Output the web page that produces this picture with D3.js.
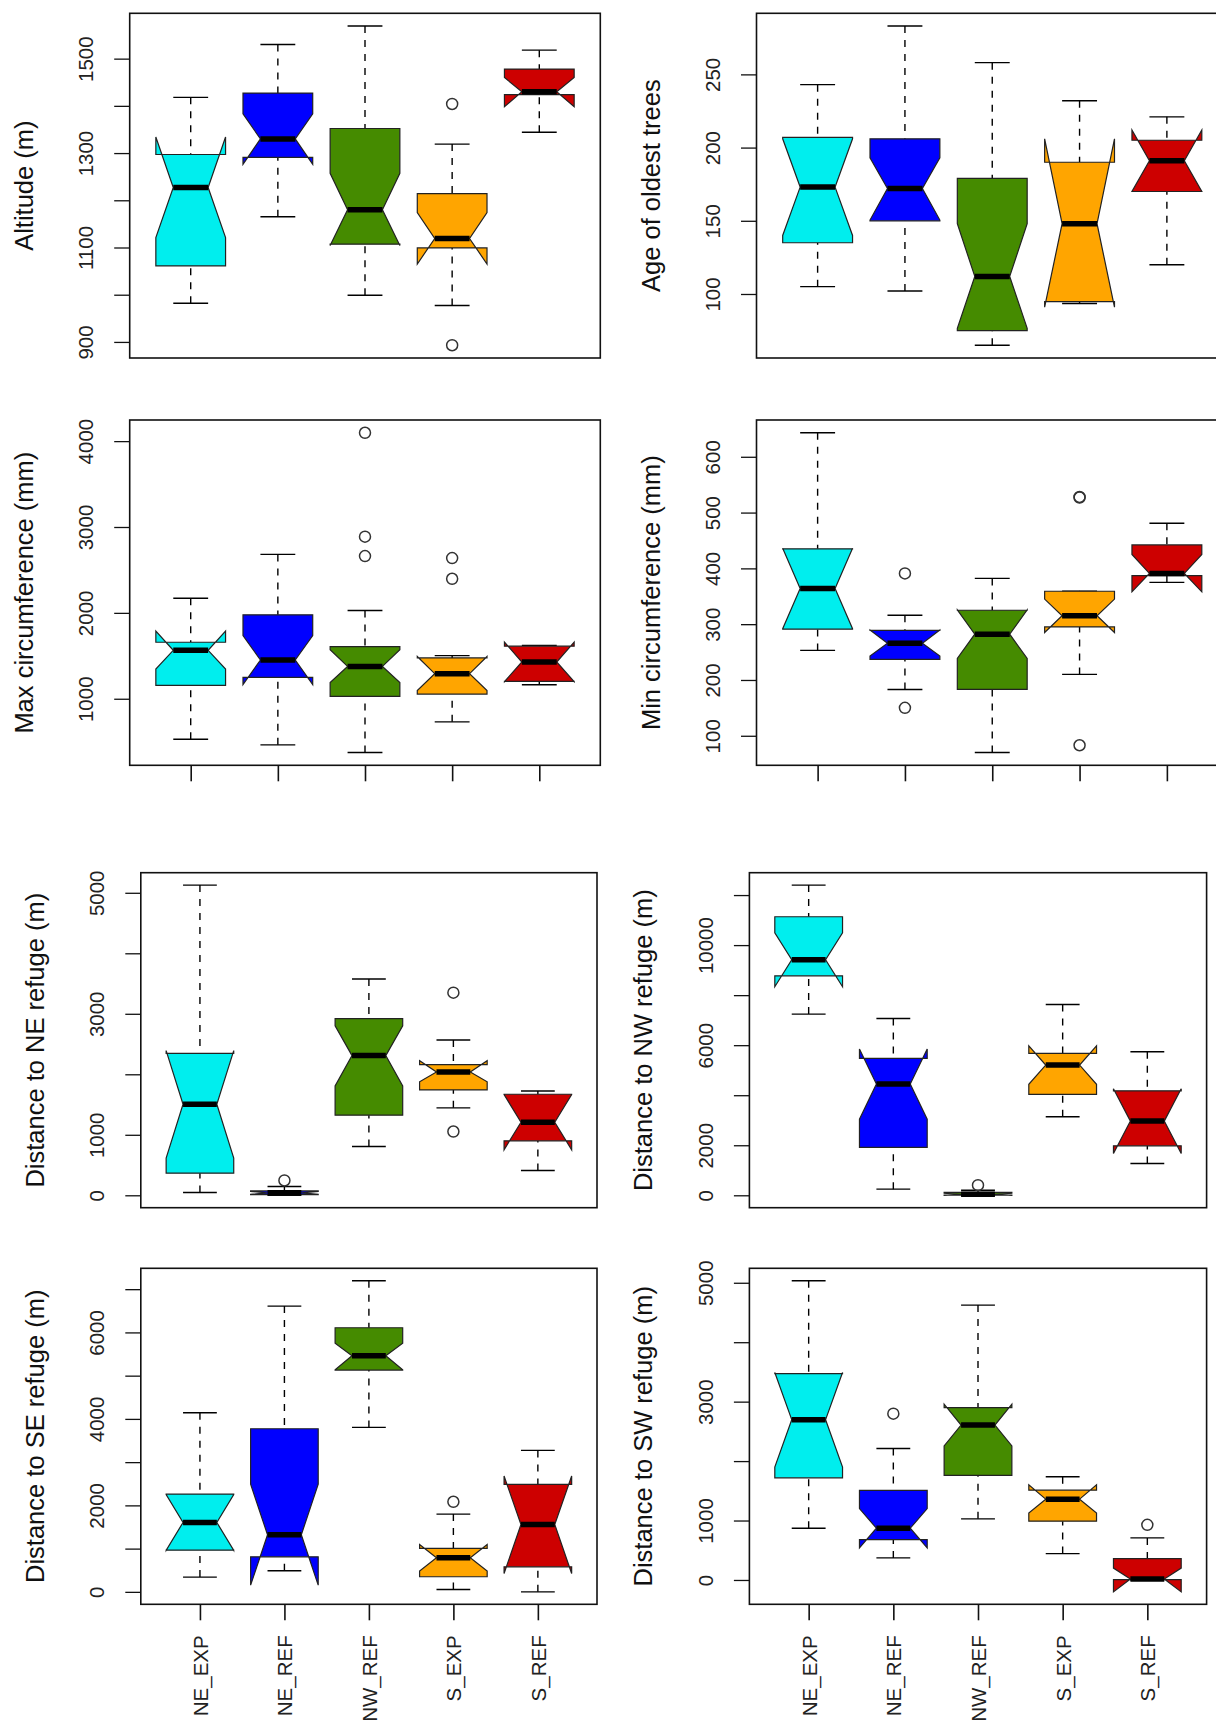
<!DOCTYPE html>
<html>
<head>
<meta charset="utf-8">
<script src="https://cdn.jsdelivr.net/npm/d3@7"></script>
<style>
  body { margin: 0; background: #fff; }
  svg { display: block; }
  text { font-family: "Liberation Sans", Arial, sans-serif; fill: #111; }
</style>
</head>
<body>
<svg id="chart" width="1216" height="1722"></svg>
<script>
// ---------------- DATA ----------------
const groups = ["NE_EXP", "NE_REF", "NW_REF", "S_EXP", "S_REF"];
const groupColors = ["#00EEEE", "#0000FF", "#458B00", "#FFA500", "#CD0000"];

// stats per group: [lower whisker, Q1, median, Q3, upper whisker]; conf: notch [low, high]
const altitudeTitle = "Altitude (m)";
const altitudeStats = [[982, 1061, 1227, 1297, 1418], [1165, 1291, 1330, 1427, 1530], [999, 1107, 1180, 1352, 1569], [977, 1099, 1119, 1214, 1319], [1344, 1424, 1430, 1478, 1518]];
const altitudeConf = [[1121, 1334], [1276, 1383], [1104, 1257], [1065, 1174], [1398, 1460]];
const altitudeOut = [[], [], [], [1404, 893], []];
const altitudeTicks = [900, 1000, 1100, 1200, 1300, 1400, 1500];
const altitudeTickLabels = [900, 1100, 1300, 1500];

const ageTitle = "Age of oldest trees";
const ageStats = [[105, 135, 173, 207, 243], [102, 150, 172, 206, 283], [65, 75, 112, 179, 258], [93.5, 94.8, 148, 190, 232], [120, 170, 191, 205, 221]];
const ageConf = [[140, 206], [150.5, 193], [76.5, 148], [91, 206], [170, 212]];
const ageOut = [[], [], [], [], []];
const ageTicks = [100, 150, 200, 250];
const ageTickLabels = [100, 150, 200, 250];

const maxCircTitle = "Max circumference (mm)";
const maxCircStats = [[529, 1156, 1564, 1658, 2171], [463, 1249, 1451, 1977, 2681], [374, 1027, 1377, 1607, 2027], [731, 1054, 1292, 1475, 1502], [1163, 1202, 1428, 1612, 1622]];
const maxCircConf = [[1346, 1788], [1165, 1735], [1189, 1570], [1095, 1492], [1198, 1660]];
const maxCircOut = [[], [], [4097, 2887, 2661], [2638, 2397], []];
const maxCircTicks = [1000, 2000, 3000, 4000];
const maxCircTickLabels = [1000, 2000, 3000, 4000];

const minCircTitle = "Min circumference (mm)";
const minCircStats = [[253, 291, 364, 435, 643], [183, 237, 266, 289, 316], [70, 183, 282, 325, 382], [210, 295, 315, 359, 359], [375, 387, 391, 442, 481]];
const minCircConf = [[292, 436], [243, 289.5], [238.5, 325.5], [285, 345], [358, 425]];
const minCircOut = [[], [391, 150], [], [528, 527, 83], []];
const minCircTicks = [100, 200, 300, 400, 500, 600];
const minCircTickLabels = [100, 200, 300, 400, 500, 600];

const neTitle = "Distance to NE refuge (m)";
const neStats = [[47, 366, 1505, 2347, 5127], [0, 12, 40, 72, 146], [806, 1324, 2309, 2920, 3575], [1445, 1742, 2039, 2160, 2567], [410, 900, 1208, 1670, 1725]];
const neConf = [[614, 2392], [15, 65], [1808, 2800], [1875, 2225], [751, 1665]];
const neOut = [[], [245], [], [3349, 1054], []];
const neTicks = [0, 1000, 2000, 3000, 4000, 5000];
const neTickLabels = [0, 1000, 3000, 5000];

const nwTitle = "Distance to NW refuge (m)";
const nwStats = [[7242, 8774, 9414, 11133, 12398], [246, 1912, 4444, 5470, 7069], [0, 10, 40, 120, 200], [3138, 4031, 5203, 5670, 7628], [1273, 1979, 2965, 4177, 5736]];
const nwConf = [[8334, 10494], [3044, 5843], [0, 80], [4435, 5975], [1672, 4258]];
const nwOut = [[], [], [406], [], []];
const nwTicks = [0, 2000, 4000, 6000, 8000, 10000, 12000];
const nwTickLabels = [0, 2000, 6000, 10000];

const seTitle = "Distance to SE refuge (m)";
const seStats = [[341, 965, 1605, 2261, 4142], [487, 811, 1320, 3772, 6609], [3803, 5129, 5460, 6108, 7195], [55, 349, 788, 1004, 1798], [0, 580, 1559, 2484, 3271]];
const seConf = [[962, 2250], [155, 2490], [5135, 5750], [480, 1096], [426, 2680]];
const seOut = [[], [], [], [2083], []];
const seTicks = [0, 1000, 2000, 3000, 4000, 5000, 6000, 7000];
const seTickLabels = [0, 2000, 4000, 6000];

const swTitle = "Distance to SW refuge (m)";
const swStats = [[871, 1719, 2697, 3472, 5034], [371, 680, 871, 1506, 2213], [1028, 1758, 2607, 2899, 4624], [444, 989, 1360, 1511, 1736], [0, 5, 15, 360, 708]];
const swConf = [[1899, 3490], [539, 1200], [2255, 2957], [1124, 1600], [-200, 200]];
const swOut = [[], [2798], [], [], [927]];
const swTicks = [0, 1000, 2000, 3000, 4000, 5000];
const swTickLabels = [0, 1000, 3000, 5000];

// ---------------- PANELS (data + layout) ----------------
const panels = [
  { title: altitudeTitle, stats: altitudeStats, conf: altitudeConf, out: altitudeOut, ticks: altitudeTicks, labels: altitudeTickLabels },
  { title: ageTitle, stats: ageStats, conf: ageConf, out: ageOut, ticks: ageTicks, labels: ageTickLabels },
  { title: maxCircTitle, stats: maxCircStats, conf: maxCircConf, out: maxCircOut, ticks: maxCircTicks, labels: maxCircTickLabels },
  { title: minCircTitle, stats: minCircStats, conf: minCircConf, out: minCircOut, ticks: minCircTicks, labels: minCircTickLabels },
  { title: neTitle, stats: neStats, conf: neConf, out: neOut, ticks: neTicks, labels: neTickLabels },
  { title: nwTitle, stats: nwStats, conf: nwConf, out: nwOut, ticks: nwTicks, labels: nwTickLabels },
  { title: seTitle, stats: seStats, conf: seConf, out: seOut, ticks: seTicks, labels: seTickLabels },
  { title: swTitle, stats: swStats, conf: swConf, out: swOut, ticks: swTicks, labels: swTickLabels }
];
const layout = [
  { left: 129.7, right: 600.3, top: 13.3, bottom: 358, xTicks: false, xLabels: false },
  { left: 756.5, right: 1228, top: 13.3, bottom: 358, xTicks: false, xLabels: false },
  { left: 129.7, right: 600.3, top: 420, bottom: 765.3, xTicks: true, xLabels: false },
  { left: 756.5, right: 1228, top: 420, bottom: 765.3, xTicks: true, xLabels: false },
  { left: 140.8, right: 597, top: 872.7, bottom: 1207.7, xTicks: false, xLabels: false },
  { left: 749.4, right: 1206.6, top: 872.7, bottom: 1207.7, xTicks: false, xLabels: false },
  { left: 140.8, right: 597, top: 1268.3, bottom: 1604.3, xTicks: true, xLabels: true },
  { left: 749.4, right: 1206.6, top: 1268.3, bottom: 1604.3, xTicks: true, xLabels: true }
];

// ---------------- DRAW ----------------
const svg = d3.select("#chart");
const halfW = 0.4;      // half box width (x units)
const stapleHalf = 0.2; // half staple width
const notchHalf = 0.2;  // half width at the median (notch)

panels.forEach((p, pi) => {
  const L = layout[pi];
  const g = svg.append("g");
  const x = d3.scaleLinear().domain([0.3, 5.7]).range([L.left, L.right]);
  const allVals = [...p.stats.flat(), ...p.conf.flat(), ...p.out.flat()];
  const [mn, mx] = d3.extent(allVals);
  const pad = (mx - mn) * 0.04;
  const y = d3.scaleLinear().domain([mn - pad, mx + pad]).range([L.bottom, L.top]);
  const line = d3.line().x(d => x(d[0])).y(d => y(d[1]));

  groups.forEach((name, i) => {
    const c = i + 1, s = p.stats[i], cf = p.conf[i];
    // whiskers (dashed)
    [[s[0], s[1]], [s[4], s[3]]].forEach(([a, b]) => {
      g.append("line")
        .attr("x1", x(c)).attr("x2", x(c))
        .attr("y1", y(a)).attr("y2", y(b))
        .attr("stroke", "#000").attr("stroke-width", 1.4)
        .attr("stroke-dasharray", "7,7");
    });
    // staples
    [s[0], s[4]].forEach(v => {
      g.append("line")
        .attr("x1", x(c - stapleHalf)).attr("x2", x(c + stapleHalf))
        .attr("y1", y(v)).attr("y2", y(v))
        .attr("stroke", "#000").attr("stroke-width", 1.4);
    });
    // notched box
    const pts = [
      [c - halfW, s[1]], [c + halfW, s[1]], [c + halfW, cf[0]], [c + notchHalf, s[2]],
      [c + halfW, cf[1]], [c + halfW, s[3]], [c - halfW, s[3]], [c - halfW, cf[1]],
      [c - notchHalf, s[2]], [c - halfW, cf[0]]
    ];
    g.append("path")
      .attr("d", line(pts) + "Z")
      .attr("fill", groupColors[i])
      .attr("stroke", "#222").attr("stroke-width", 1.2)
      .attr("stroke-linejoin", "miter");
    // median
    g.append("line")
      .attr("x1", x(c - notchHalf)).attr("x2", x(c + notchHalf))
      .attr("y1", y(s[2])).attr("y2", y(s[2]))
      .attr("stroke", "#000").attr("stroke-width", 5.5);
    // outliers
    p.out[i].forEach(v => {
      g.append("circle")
        .attr("cx", x(c)).attr("cy", y(v)).attr("r", 5.5)
        .attr("fill", "none").attr("stroke", "#333").attr("stroke-width", 1.5);
    });
  });

  // frame
  g.append("rect")
    .attr("x", L.left).attr("y", L.top)
    .attr("width", L.right - L.left).attr("height", L.bottom - L.top)
    .attr("fill", "none").attr("stroke", "#111").attr("stroke-width", 1.6);

  // y axis
  const yAxis = d3.axisLeft(y).tickValues(p.ticks).tickSize(15.5)
    .tickFormat(d => p.labels.includes(d) ? String(d) : "");
  const ag = svg.append("g").attr("transform", `translate(${L.left},0)`).call(yAxis)
    .attr("font-family", null).attr("font-size", null);
  ag.select(".domain").remove();
  ag.selectAll(".tick line").attr("stroke", "#111").attr("stroke-width", 1.3);
  ag.selectAll(".tick text")
    .attr("x", null).attr("dy", null)
    .attr("text-anchor", "middle")
    .attr("transform", "translate(-36.5,0) rotate(-90)")
    .style("font-size", "20.5px").style("fill", "#222");

  // y title
  svg.append("text")
    .attr("transform", `translate(${L.left - 97},${(L.top + L.bottom) / 2}) rotate(-90)`)
    .attr("text-anchor", "middle")
    .style("font-size", "25.5px")
    .text(p.title);

  // x axis
  if (L.xTicks) {
    const xAxis = d3.axisBottom(x).tickValues([1, 2, 3, 4, 5]).tickSize(16)
      .tickFormat((d, i) => L.xLabels ? groups[i] : "");
    const xg = svg.append("g").attr("transform", `translate(0,${L.bottom})`).call(xAxis)
      .attr("font-family", null).attr("font-size", null);
    xg.select(".domain").remove();
    xg.selectAll(".tick line").attr("stroke", "#111").attr("stroke-width", 1.6);
    xg.selectAll(".tick text")
      .attr("y", null).attr("dy", "0.36em")
      .attr("text-anchor", "end")
      .attr("transform", "translate(0,31) rotate(-90)")
      .style("font-size", "20.5px").style("fill", "#222");
  }
});
</script>
</body>
</html>
